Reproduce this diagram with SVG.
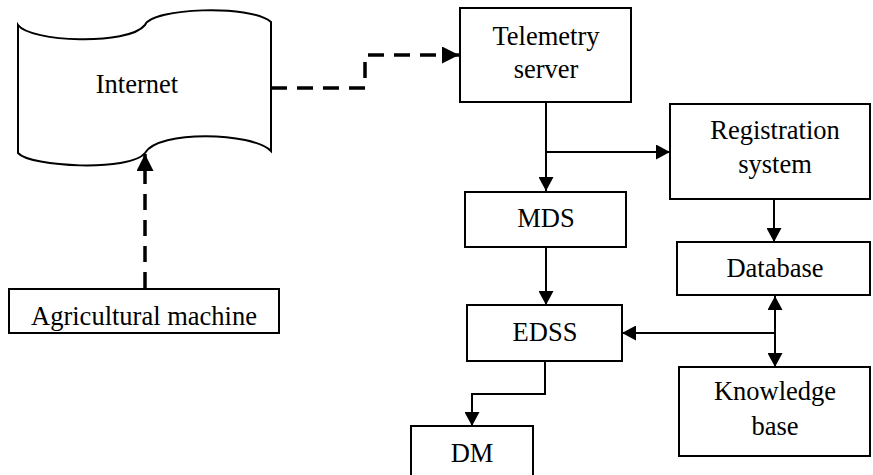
<svg xmlns="http://www.w3.org/2000/svg" width="873" height="475" viewBox="0 0 873 475">
<style>
.box{fill:#fff;stroke:#000;stroke-width:2}
.t{font-family:"Liberation Serif","Times New Roman",serif;font-size:26.5px;fill:#000;text-anchor:middle}
.ln{fill:none;stroke:#000;stroke-width:2}
.dl{fill:none;stroke:#000;stroke-width:3.5;stroke-dasharray:16 10}
</style>
<defs>
<marker id="ah" viewBox="0 0 14 15" refX="14" refY="7.5" markerWidth="14" markerHeight="15" markerUnits="userSpaceOnUse" orient="auto-start-reverse">
<path d="M0,0 L14,7.5 L0,15 Z" fill="#000"/>
</marker>
<marker id="ahd" viewBox="0 0 17 17" refX="17" refY="8.5" markerWidth="17" markerHeight="17" markerUnits="userSpaceOnUse" orient="auto">
<path d="M0,0 L17,8.5 L0,17 Z" fill="#000"/>
</marker>
</defs>
<g id="internet">
<path class="box" d="M18,25 C30,42 128,46 145,25 C152,8 250,4 271,22 L271,151 C252,132 158,130 145,153 C130,172 30,167 18,153 Z"/>
<text class="t" x="137" y="93">Internet</text>
</g>
<g id="telemetry">
<rect class="box" x="460" y="8" width="171" height="94"/>
<text class="t" x="546" y="45">Telemetry</text>
<text class="t" x="546" y="78">server</text>
</g>
<g id="registration">
<rect class="box" x="670" y="104" width="200" height="95"/>
<text class="t" x="775" y="139">Registration</text>
<text class="t" x="775" y="173">system</text>
</g>
<g id="mds">
<rect class="box" x="465" y="192" width="161" height="55"/>
<text class="t" x="546" y="227">MDS</text>
</g>
<g id="database">
<rect class="box" x="677" y="242" width="193" height="53"/>
<text class="t" x="775" y="277">Database</text>
</g>
<g id="edss">
<rect class="box" x="467" y="305" width="155" height="56"/>
<text class="t" x="545" y="341">EDSS</text>
</g>
<g id="knowledge">
<rect class="box" x="679" y="367" width="191" height="89"/>
<text class="t" x="775" y="400">Knowledge</text>
<text class="t" x="775" y="435">base</text>
</g>
<g id="dm">
<rect class="box" x="411" y="426" width="122" height="60"/>
<text class="t" x="472" y="462">DM</text>
</g>
<g id="agri">
<rect class="box" x="9" y="289" width="270" height="44"/>
<text class="t" x="144" y="325">Agricultural machine</text>
</g>
<g id="connectors">
<path class="dl" d="M145,288 L145,154" marker-end="url(#ahd)"/>
<path class="dl" d="M271,88 L365,88 L365,55 L459,55" marker-end="url(#ahd)"/>
<path class="ln" d="M546,102 L546,191" marker-end="url(#ah)"/>
<path class="ln" d="M546,152 L670,152" marker-end="url(#ah)"/>
<path class="ln" d="M774,199 L774,242" marker-end="url(#ah)"/>
<path class="ln" d="M546,247 L546,305" marker-end="url(#ah)"/>
<path class="ln" d="M775,296 L775,367" marker-start="url(#ah)" marker-end="url(#ah)"/>
<path class="ln" d="M775,333 L622,333" marker-end="url(#ah)"/>
<path class="ln" d="M545,361 L545,394 L472,394 L472,426" marker-end="url(#ah)"/>
</g>
</svg>
